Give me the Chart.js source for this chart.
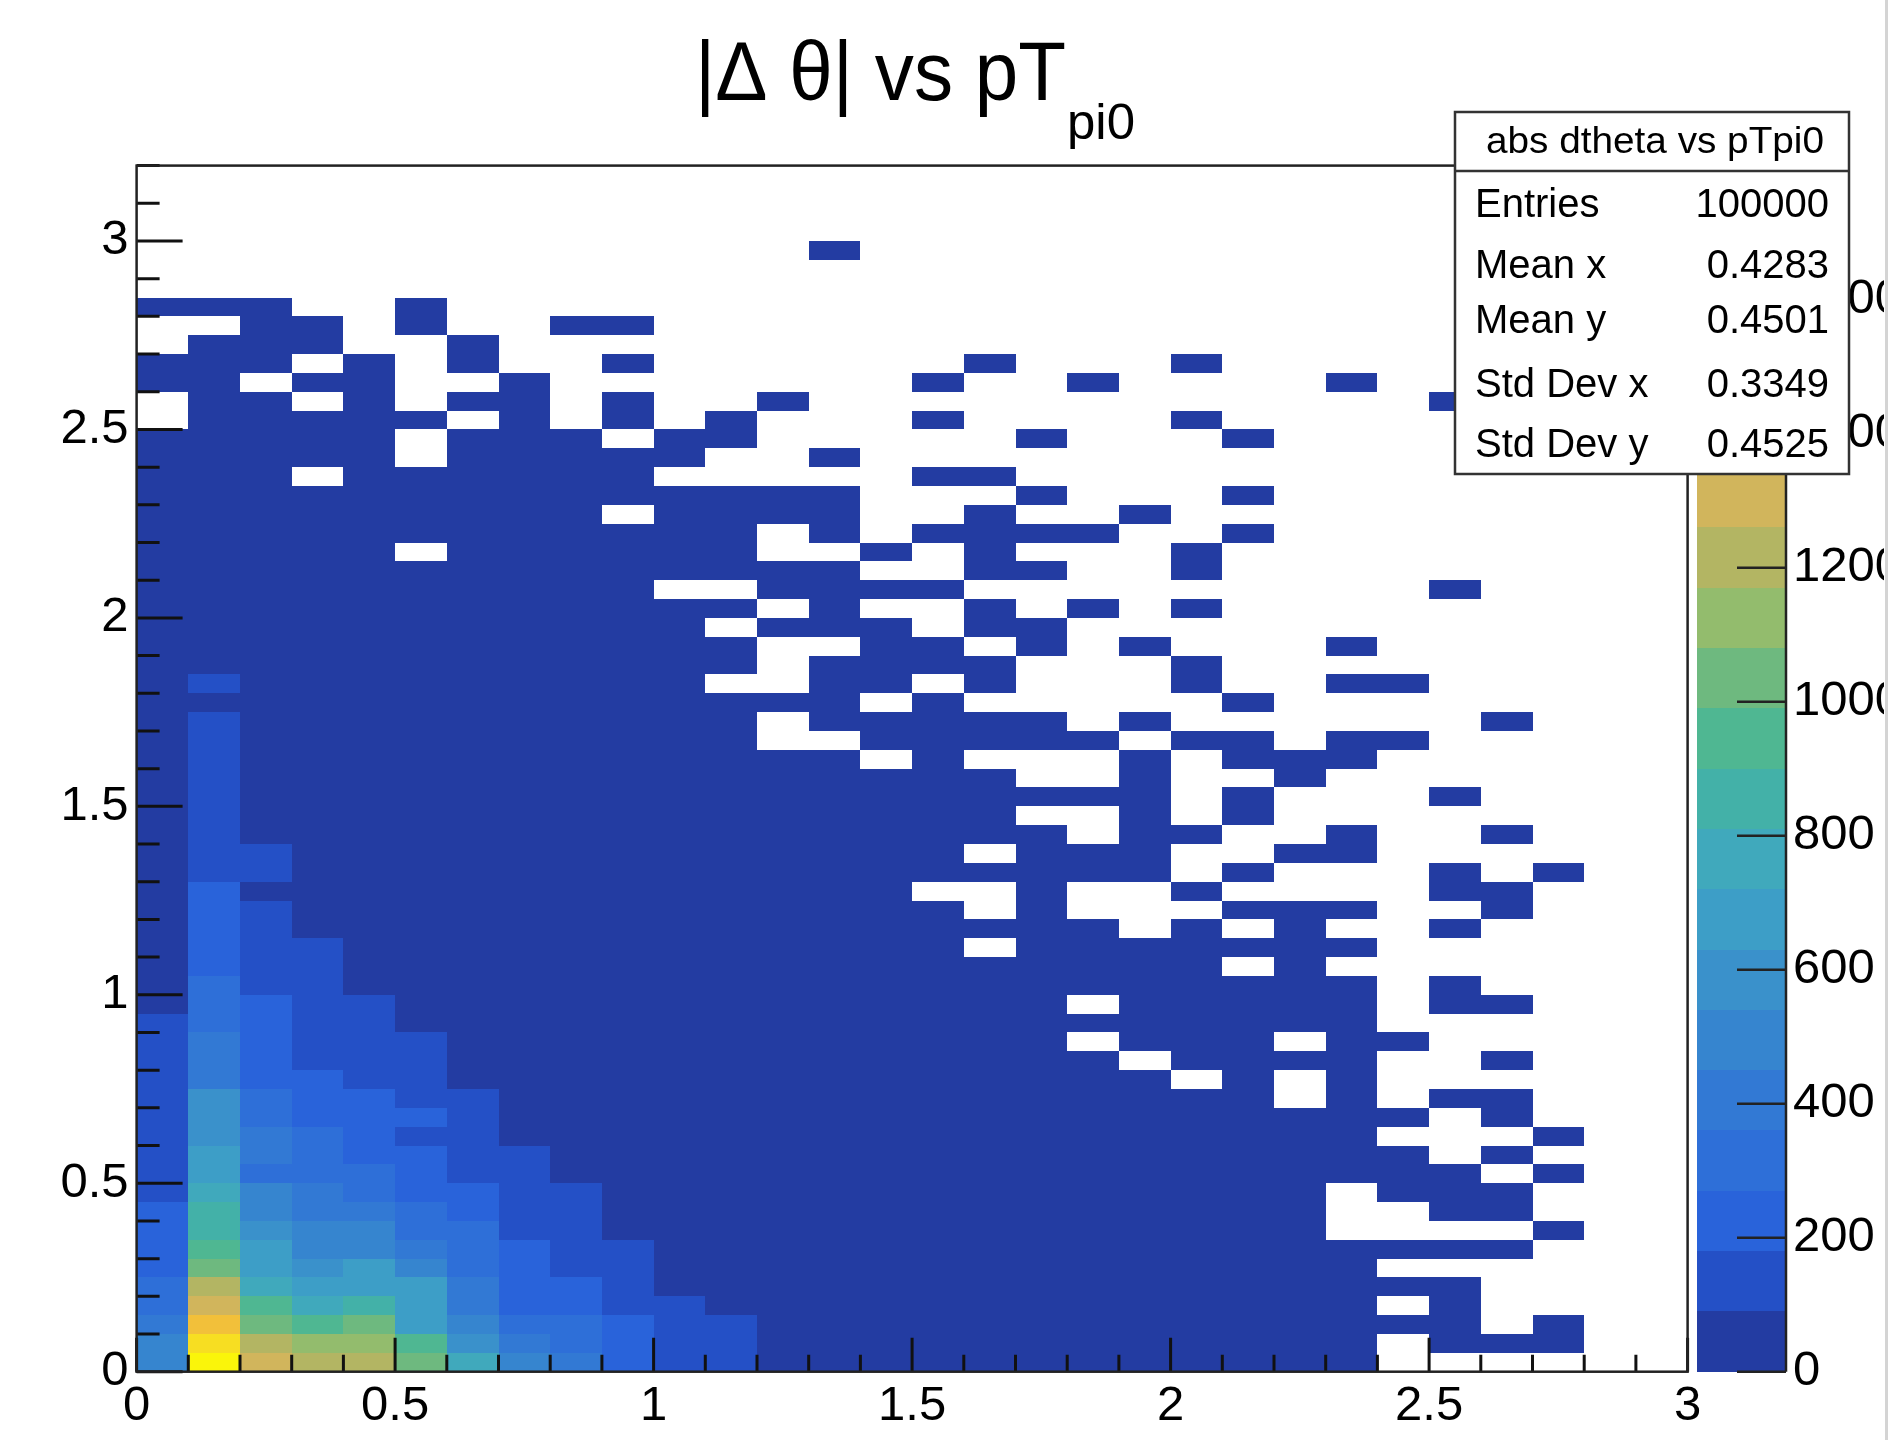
<!DOCTYPE html>
<html>
<head>
<meta charset="utf-8">
<script src="https://cdn.jsdelivr.net/npm/chart.js@4.4.1/dist/chart.umd.min.js"></script>
<style>
  html, body { margin: 0; padding: 0; background: #fff; }
</style>
</head>
<body>
<canvas id="h2" width="1895" height="1440"></canvas>
<script>
// binning of the 2D histogram (x = pT pi0, y = |dtheta|)
const xRange = [0, 3];
const yRange = [0, 3.2];
const nBinsX = 30;
const nBinsY = 64;

// contour level of every cell.
// one string per y bin, top row first; '.' = empty, 0-9 a-j = level 0..19
const cellRows = [
  ".......... .......... ..........",
  ".......... .......... ..........",
  ".......... .......... ..........",
  ".......... .......... ..........",
  ".......... ...0...... ..........",
  ".......... .......... ..........",
  ".......... .......... ..........",
  "000..0.... .......... ..........",
  "..00.0..00 .......... ..........",
  ".000..0... .......... ..........",
  "000.0.0..0 ......0... 0.........",
  "00.00..0.. .....0..0. ...0......",
  ".00.0.00.0 ..0....... .....0....",
  ".00000.0.0 .0...0.... 0.........",
  "00000.000. 00.....0.. .0........",
  "00000.0000 0..0...... ..........",
  "000.000000 .....00... ..........",
  "0000000000 0000...0.. .0........",
  "000000000. 0000..0..0 ..........",
  "0000000000 00.0.0000. .0........",
  "00000.0000 00..0.0... 0.........",
  "0000000000 0000..00.. 0.........",
  "0000000000 ..0000.... .....0....",
  "0000000000 00.0..0.0. 0.........",
  "0000000000 0.000.00.. ..........",
  "0000000000 00..00.0.0 ...0......",
  "0000000000 00.0000... 0.........",
  "0100000000 0..00.0... 0..00.....",
  "0000000000 0000.0.... .0........",
  "0100000000 00.00000.0 ......0...",
  "0100000000 00..00000. 00.00.....",
  "0100000000 0000.0...0 .000......",
  "0100000000 0000000..0 ..0.......",
  "0100000000 0000000000 .0...0....",
  "0100000000 0000000..0 .0........",
  "0100000000 00000000.0 0..0..0...",
  "0110000000 000000.000 ..00......",
  "0110000000 0000000000 .0...0.0..",
  "0200000000 00000..0.. 0....00...",
  "0210000000 000000.0.. .000..0...",
  "0210000000 000000000. 0.0..0....",
  "0211000000 000000.000 0000......",
  "0211000000 0000000000 0.0.......",
  "0311000000 0000000000 0000.0....",
  "0321100000 00000000.0 0000.00...",
  "1321100000 0000000000 0000......",
  "1421110000 00000000.0 00.00.....",
  "1421110000 000000000. 0000..0...",
  "1422110000 0000000000 .0.0......",
  "1632211000 0000000000 00.0.00...",
  "1632221000 0000000000 00000.0...",
  "1643211000 0000000000 0000...0..",
  "1743221100 0000000000 00000.0...",
  "1733321100 0000000000 000000.0..",
  "1854322110 0000000000 000.000...",
  "2954432110 0000000000 000..00...",
  "2965533110 0000000000 000....0..",
  "2a75543211 0000000000 0000000...",
  "2b76753211 0000000000 0000......",
  "3d87774221 0000000000 000000....",
  "3ea8974221 1000000000 0000.0....",
  "4gbab75332 1100000000 000000.0..",
  "5idcca6432 1100000000 0000.000..",
  "5jeddb8542 1100000000 0000......"
];
const levelChars = "0123456789abcdefghij";

// z axis (counts)
const zMax = 1800;
const nLevels = 20;
const zTickLabels = [0, 200, 400, 600, 800, 1000, 1200, 1400, 1600];
const paletteColors = [
  "#233ca2", "#2450c6", "#2963da", "#2e6fd8", "#3279d4",
  "#3685cf", "#3a91cb", "#3d9ec7", "#40a9bc", "#43b1a8",
  "#4fb792", "#6eb97f", "#93bc6d", "#b3b563", "#d1b55c",
  "#e9bc48", "#f2c03a", "#f5cb2e", "#f7de22", "#faf50a"
];

const xTickLabels = [0, 0.5, 1, 1.5, 2, 2.5, 3];
const yTickLabels = [0, 0.5, 1, 1.5, 2, 2.5, 3];

const statsTitle = "abs dtheta vs pTpi0";
const statsNames = ["Entries", "Mean x", "Mean y", "Std Dev x", "Std Dev y"];
const statsValues = ["100000", "0.4283", "0.4501", "0.3349", "0.4525"];

const dx = (xRange[1] - xRange[0]) / nBinsX;
const dy = (yRange[1] - yRange[0]) / nBinsY;
const levelStep = zMax / nLevels;

// build the cell list (bin centres + estimated counts)
const cells = [];
cellRows.forEach((row, r) => {
  const chars = row.replace(/ /g, "");
  const iy = nBinsY - 1 - r;
  for (let ix = 0; ix < nBinsX; ix++) {
    const lev = levelChars.indexOf(chars[ix]);
    if (lev < 0) continue;
    cells.push({
      x: xRange[0] + (ix + 0.5) * dx,
      y: yRange[0] + (iy + 0.5) * dy,
      v: (lev + 0.5) * levelStep
    });
  }
});

function colourFor(v) {
  return paletteColors[Math.min(nLevels - 1, Math.floor(v / levelStep))];
}

// squeeze/stretch text to a measured width
function fitText(ctx, text, x, y, width) {
  const w = ctx.measureText(text).width;
  ctx.save();
  ctx.translate(x, y);
  ctx.scale(width / w, 1);
  ctx.fillText(text, 0, 0);
  ctx.restore();
}

const FONT = "'Liberation Sans', Arial, Helvetica, sans-serif";
Chart.defaults.font.family = FONT;

const rootStyle = {
  id: "rootStyle",
  beforeDatasetsDraw(chart) {
    const { ctx, scales: { x, y } } = chart;
    ctx.save();
    chart.data.datasets[0].data.forEach(c => {
      const l = Math.round(x.getPixelForValue(c.x - dx / 2));
      const r = Math.round(x.getPixelForValue(c.x + dx / 2));
      const t = Math.round(y.getPixelForValue(c.y + dy / 2));
      const b = Math.round(y.getPixelForValue(c.y - dy / 2));
      ctx.fillStyle = colourFor(c.v);
      ctx.fillRect(l, t, r - l, b - t);
    });
    ctx.restore();
  },
  afterDatasetsDraw(chart) {
    const { ctx, chartArea: a, scales: { x, y } } = chart;
    ctx.save();
    // inside ticks, ROOT style
    ctx.strokeStyle = "#111";
    ctx.lineWidth = 3;
    ctx.beginPath();
    for (let i = 0; i <= 32; i++) {
      const py = y.getPixelForValue(i / 10);
      const len = i % 5 === 0 ? 46 : 23;
      ctx.moveTo(a.left, py);
      ctx.lineTo(a.left + len, py);
    }
    for (let i = 0; i <= 30; i++) {
      const px = x.getPixelForValue(i / 10);
      const len = i % 5 === 0 ? 34 : 17;
      ctx.moveTo(px, a.bottom);
      ctx.lineTo(px, a.bottom - len);
    }
    ctx.stroke();
    // frame
    ctx.lineWidth = 2.5;
    ctx.strokeStyle = "#222";
    ctx.strokeRect(a.left, a.top, a.right - a.left, a.bottom - a.top);
    ctx.restore();
  },
  afterDraw(chart) {
    const { ctx, scales: { z } } = chart;
    ctx.save();

    // colour palette
    const pl = z.left + 9.4, pr = z.left + 98.4;
    for (let i = 0; i < nLevels; i++) {
      const yb = Math.round(z.getPixelForValue(i * levelStep));
      const yt = Math.round(z.getPixelForValue((i + 1) * levelStep));
      ctx.fillStyle = paletteColors[i];
      ctx.fillRect(pl, yt, pr - pl, yb - yt);
    }
    ctx.strokeStyle = "#222";
    ctx.lineWidth = 2.5;
    ctx.beginPath();
    ctx.moveTo(pr, z.top);
    ctx.lineTo(pr, z.bottom);
    zTickLabels.forEach(v => {
      const py = z.getPixelForValue(v);
      ctx.moveTo(pr, py);
      ctx.lineTo(pr - 49, py);
    });
    ctx.stroke();

    // stats box
    const bx = 1455, by = 112, bw = 394, bh = 362;
    ctx.fillStyle = "#fff";
    ctx.fillRect(bx, by, bw, bh);
    ctx.strokeStyle = "#333";
    ctx.lineWidth = 2.5;
    ctx.strokeRect(bx, by, bw, bh);
    ctx.beginPath();
    ctx.moveTo(bx, 171);
    ctx.lineTo(bx + bw, 171);
    ctx.stroke();
    ctx.fillStyle = "#000";
    ctx.textBaseline = "alphabetic";
    ctx.textAlign = "left";
    ctx.font = "36px " + FONT;
    fitText(ctx, statsTitle, 1486, 153, 338);
    const baselines = [217, 278, 333, 397, 457];
    ctx.font = "40px " + FONT;
    statsNames.forEach((n, i) => {
      ctx.textAlign = "left";
      ctx.fillText(n, 1475, baselines[i]);
      ctx.textAlign = "right";
      ctx.fillText(statsValues[i], 1829, baselines[i]);
    });

    // title  |Δθ| vs pT_pi0
    ctx.textAlign = "left";
    ctx.font = "84px " + FONT;
    fitText(ctx, "|\u0394 \u03b8| vs pT", 695, 100, 371);
    ctx.font = "50px " + FONT;
    fitText(ctx, "pi0", 1067, 139, 68);

    // the picture is cut at the right edge
    ctx.fillStyle = "#fff";
    ctx.fillRect(1884, 0, 11, 1440);
    ctx.fillStyle = "#d4d4d4";
    ctx.fillRect(1885, 0, 3, 1440);
    ctx.restore();
  }
};

const tickFont = { family: FONT, size: 49 };

new Chart(document.getElementById("h2"), {
  type: "scatter",
  data: {
    datasets: [{ data: cells, pointRadius: 0, pointHoverRadius: 0 }]
  },
  options: {
    responsive: false,
    animation: false,
    devicePixelRatio: 1,
    events: [],
    layout: { padding: { top: 165.6, right: 0, bottom: 0, left: 0 } },
    plugins: { legend: { display: false }, tooltip: { enabled: false } },
    scales: {
      x: {
        type: "linear", position: "bottom", min: xRange[0], max: xRange[1],
        grid: { display: false, drawTicks: false }, border: { display: false },
        afterFit: s => { s.height = 68.3; },
        afterBuildTicks: s => { s.ticks = xTickLabels.map(v => ({ value: v })); },
        ticks: { font: tickFont, color: "#000", padding: 5, maxRotation: 0, autoSkip: false, callback: v => String(v) }
      },
      y: {
        type: "linear", position: "left", min: yRange[0], max: yRange[1],
        grid: { display: false, drawTicks: false }, border: { display: false },
        afterFit: s => { s.width = 136.6; },
        afterBuildTicks: s => { s.ticks = yTickLabels.map(v => ({ value: v })); },
        ticks: { font: tickFont, color: "#000", padding: 8, autoSkip: false, callback: v => String(v) }
      },
      z: {
        type: "linear", position: "right", min: 0, max: zMax,
        // invisible tick marks push the labels past the colour bar
        grid: { display: true, drawOnChartArea: false, drawTicks: true, tickLength: 98.4, color: "rgba(0,0,0,0)" },
        border: { display: false },
        afterFit: s => { s.width = 207.4; },
        afterBuildTicks: s => { s.ticks = zTickLabels.map(v => ({ value: v })); },
        ticks: { font: tickFont, color: "#000", padding: 7, autoSkip: false, callback: v => String(v) }
      }
    }
  },
  plugins: [rootStyle]
});
</script>
</body>
</html>
